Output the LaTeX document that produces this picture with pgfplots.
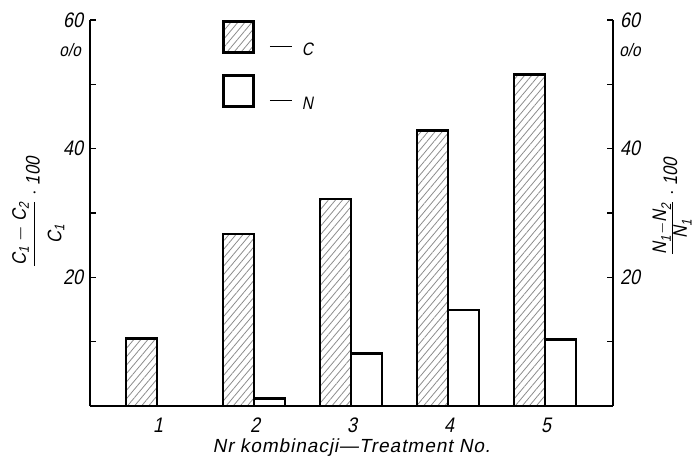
\documentclass[border=0pt]{standalone}
\usepackage{amsmath}
\usepackage{fontspec}
\setmainfont{Liberation Sans}[FakeStretch=0.85, FakeSlant=0.2]
\newfontfamily\widefont{Liberation Sans}[FakeSlant=0.2, LetterSpace=5]
\usepackage{pgfplots}
\pgfplotsset{compat=1.18}
\usetikzlibrary{patterns.meta}
\newcommand{\tf}{\fontsize{10.5}{12}\selectfont}
\newcommand{\lf}{\fontsize{9}{10}\selectfont}
\newcommand{\yf}{\fontsize{9.8}{11}\selectfont}
\newcommand{\dash}{\rule[4pt]{11pt}{0.5pt}\hspace{5pt}}
\pgfplotsset{
  sqleg/.style={legend image code/.code={\draw[##1] (0pt,-1pt) rectangle (15pt,14.5pt);}},
  common/.style={
    at={(0,0)}, anchor=south west, scale only axis,
    width=261.5pt, height=193pt,
    xmin=0.469, xmax=5.861, ymin=0, ymax=60,
    ytick={20,40,60}, minor ytick={10,30,50},
    tick align=inside, major tick length=3.2pt, minor tick length=3.2pt,
    every tick/.style={black, line width=0.6pt},
    axis line style={-, line width=0.8pt},
    /pgf/number format/assume math mode=true,
    tick label style={font=\tf},
    clip=false,
  }
}
\begin{document}
\begin{tikzpicture}
\path[use as bounding box] (-45pt,-25.5pt) rectangle (304.5pt,203pt);
\begin{axis}[common,
  axis x line*=bottom, axis y line*=left,
  xtick={1.17,2.17,3.17,4.17,5.17},
  xticklabels={1,2,3,4,5},
  x tick style={draw=none},
  xticklabel style={yshift=-2.5pt},
  xlabel={\widefont\fontsize{9.5}{11}\selectfont Nr kombinacji—Treatment No.},
  xlabel style={at={(rel axis cs:0.5,0)}, anchor=center, yshift=-21pt},
  ylabel={\yf $\dfrac{\rule[-3pt]{0pt}{0pt}\mbox{C}_{\mbox{\scriptsize 1}}-\mbox{C}_{\mbox{\scriptsize 2}}}{\rule{0pt}{12pt}\mbox{C}_{\mbox{\scriptsize 1}}}\cdot\mbox{100}$},
  ylabel style={at={(rel axis cs:-0.099,0.501)}, anchor=center, rotate=0},
  legend style={at={(rel axis cs:0.2524,1.0)}, anchor=north west, draw=none, fill=none,
    font=\lf, row sep=6pt, inner sep=0pt,
    /tikz/every odd column/.append style={column sep=5.5pt}},
  legend cell align=left,
]
\addplot[ybar, bar width=0.32, bar shift=0, draw=black, line width=1.25pt,
  pattern={Lines[angle=50,distance=2.7pt,line width=0.4pt]}, pattern color=black!45, sqleg]
  coordinates {(1,10.5) (2,26.7) (3,32.2) (4,42.8) (5,51.5)};
\addlegendentry{\dash C}
\addplot[ybar, bar width=0.32, bar shift=0.32, draw=black, line width=1.25pt, fill=white, sqleg]
  coordinates {(2,1.2) (3,8.2) (4,14.9) (5,10.3)};
\addlegendentry{\dash N}
\node[font=\lf] at (rel axis cs:-0.038,0.922) {o/o};
\end{axis}
\begin{axis}[common,
  axis x line=none, axis y line*=right,
  ylabel={\yf $\frac{\mbox{N}_{\mbox{\scriptsize 1}}-\mbox{N}_{\mbox{\scriptsize 2}}}{\mbox{N}_{\mbox{\scriptsize 1}}}\cdot\mbox{100}$},
  ylabel style={at={(rel axis cs:1.113,0.515)}, anchor=center, rotate=0},
]
\node[font=\lf] at (rel axis cs:1.0325,0.922) {o/o};
\end{axis}
\end{tikzpicture}
\end{document}
